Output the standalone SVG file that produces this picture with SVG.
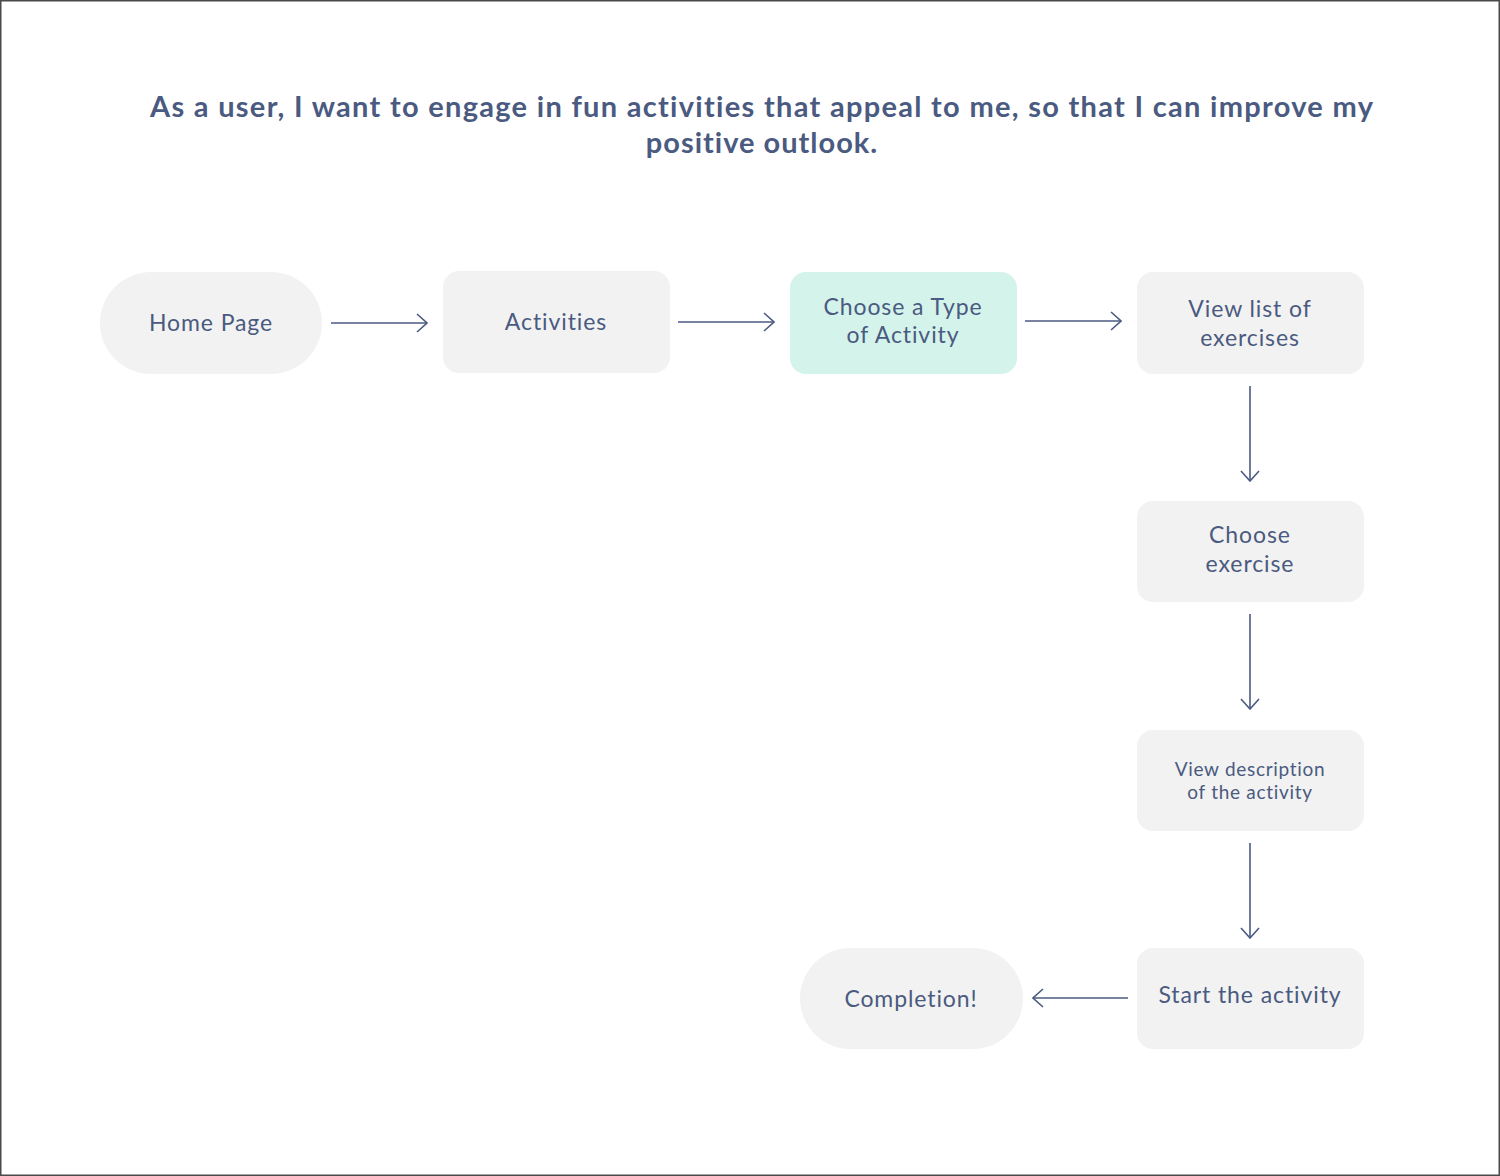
<svg xmlns="http://www.w3.org/2000/svg" width="1500" height="1176" viewBox="0 0 1500 1176">
<defs>
<style>
.n{fill:#f2f2f2}
.t{font-family:Lato,"Noto Sans",sans-serif;font-size:23px;fill:#4a5a80;text-anchor:middle;letter-spacing:0.9px}
.s{font-size:19px;letter-spacing:0.7px}
.h{font-family:Lato,"Noto Sans",sans-serif;font-size:29px;font-weight:bold;fill:#4a5a80;text-anchor:middle;letter-spacing:1px}
.c{stroke:#4a5a80;stroke-width:1.6;fill:none}
</style>
<marker id="a" viewBox="0 0 12 20" refX="11" refY="10" markerWidth="12" markerHeight="20" markerUnits="userSpaceOnUse" orient="auto">
<path d="M1,1 L11,10 L1,19" fill="none" stroke="#4a5a80" stroke-width="1.6"/>
</marker>
</defs>
<rect x="0.75" y="0.75" width="1498.5" height="1174.5" fill="#fff" stroke="#4a4a4a" stroke-width="1.5"/>
<g id="title">
<text class="h" x="762" y="117" textLength="1224" lengthAdjust="spacing">As a user, I want to engage in fun activities that appeal to me, so that I can improve my</text>
<text class="h" x="762" y="153">positive outlook.</text>
</g>
<g id="home"><rect class="n" x="100" y="272" width="222" height="102" rx="51"/><text class="t" x="211" y="331">Home Page</text></g>
<g id="activities"><rect class="n" x="443" y="271" width="227" height="102" rx="16"/><text class="t" x="556" y="330">Activities</text></g>
<g id="type"><rect x="790" y="272" width="227" height="102" rx="16" fill="#d4f3ea"/><text class="t" x="903" y="315">Choose a Type</text><text class="t" x="903" y="343">of Activity</text></g>
<g id="list"><rect class="n" x="1137" y="272" width="227" height="102" rx="16"/><text class="t" x="1250" y="317">View list of</text><text class="t" x="1250" y="346">exercises</text></g>
<g id="choose"><rect class="n" x="1137" y="501" width="227" height="101" rx="16"/><text class="t" x="1250" y="543">Choose</text><text class="t" x="1250" y="572">exercise</text></g>
<g id="desc"><rect class="n" x="1137" y="730" width="227" height="101" rx="16"/><text class="t s" x="1250" y="776">View description</text><text class="t s" x="1250" y="799">of the activity</text></g>
<g id="start"><rect class="n" x="1137" y="948" width="227" height="101" rx="16"/><text class="t" x="1250" y="1003">Start the activity</text></g>
<g id="completion"><rect class="n" x="800" y="948" width="223" height="101" rx="50.5"/><text class="t" x="911" y="1007">Completion!</text></g>
<g id="connectors">
<line class="c" x1="331" y1="323" x2="427" y2="323" marker-end="url(#a)"/>
<line class="c" x1="678" y1="322" x2="774" y2="322" marker-end="url(#a)"/>
<line class="c" x1="1025" y1="321" x2="1121" y2="321" marker-end="url(#a)"/>
<line class="c" x1="1250" y1="386" x2="1250" y2="481" marker-end="url(#a)"/>
<line class="c" x1="1250" y1="614" x2="1250" y2="709" marker-end="url(#a)"/>
<line class="c" x1="1250" y1="843" x2="1250" y2="938" marker-end="url(#a)"/>
<line class="c" x1="1128" y1="998" x2="1033" y2="998" marker-end="url(#a)"/>
</g>
</svg>
